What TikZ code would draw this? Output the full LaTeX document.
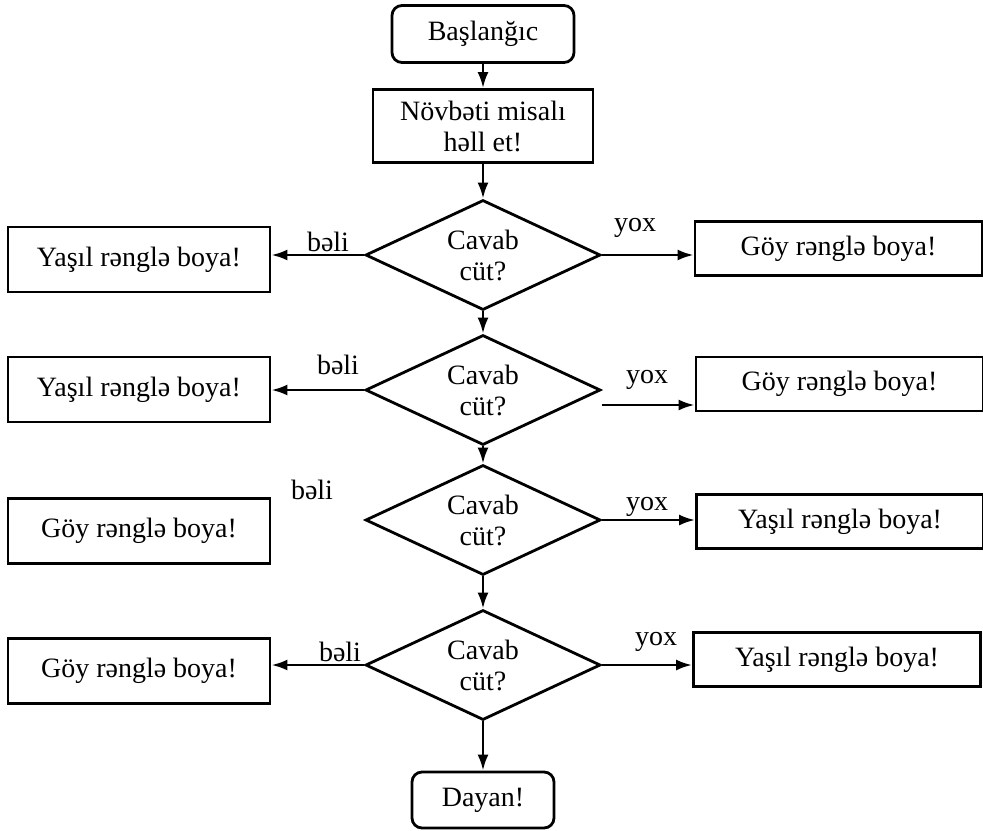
\documentclass[tikz,border=0pt]{standalone}
\usepackage{fontspec}
\setmainfont{Liberation Serif}
\usetikzlibrary{shapes.geometric,arrows.meta}
\begin{document}
\begin{tikzpicture}[x=0.5pt,y=-0.5pt,
  every node/.style={font=\fontsize{14}{15.5}\selectfont},
  box/.style={draw,line width=1.4pt,rectangle,inner sep=0pt,align=center},
  term/.style={box,rounded corners=5pt},
  test/.style={draw,line width=1.4pt,diamond,aspect=2.14,inner sep=0pt,
    minimum width=117.5pt,minimum height=55pt,align=center},
  lbox/.style={box,minimum width=131pt,minimum height=32.5pt},
  rbox/.style={box,minimum width=143.5pt,minimum height=27pt},
  flow/.style={line width=1.3pt,-{Latex[length=8pt,width=5.5pt]}},
  tag/.style={inner sep=0pt}]
\useasboundingbox (0,0) rectangle (983,830);

% main column
\node[term,minimum width=91pt,minimum height=28.5pt] (start) at (483,34) {Başlanğıc};
\node[box,minimum width=110pt,minimum height=36.5pt] (next) at (483,126) {Növbəti misalı\\həll et!};
\node[test] (d1) at (483,255) {Cavab\\cüt?};
\node[test] (d2) at (483,390) {Cavab\\cüt?};
\node[test] (d3) at (483,520) {Cavab\\cüt?};
\node[test] (d4) at (483,665) {Cavab\\cüt?};
\node[term,minimum width=71pt,minimum height=28pt] (stop) at (483,800) {Dayan!};

% left branches
\node[lbox] (l1) at (139,259.5) {Yaşıl rənglə boya!};
\node[lbox] (l2) at (139,389.5) {Yaşıl rənglə boya!};
\node[lbox] (l3) at (139,531) {Göy rənglə boya!};
\node[lbox] (l4) at (139,671) {Göy rənglə boya!};

% right branches
\node[rbox] (r1) at (838.5,248.5) {Göy rənglə boya!};
\node[rbox] (r2) at (839.5,384) {Göy rənglə boya!};
\node[rbox] (r3) at (840,521.5) {Yaşıl rənglə boya!};
\node[rbox] (r4) at (837,659.5) {Yaşıl rənglə boya!};

% branch labels
\node[tag] (b1) at (328,242) {bəli};
\node[tag] (b2) at (338,365) {bəli};
\node[tag] (b3) at (312,490) {bəli};
\node[tag] (b4) at (340,652) {bəli};
\node[tag] (y1) at (635,228) {yox};
\node[tag] (y2) at (647,380) {yox};
\node[tag] (y3) at (647,507) {yox};
\node[tag] (y4) at (656,642) {yox};

% vertical flow
\draw[flow] (start) -- (next);
\draw[flow] (next) -- (d1);
\draw[flow] (d1) -- (d2);
\draw[flow] (d2) -- (d3);
\draw[flow] (d3) -- (d4);
\draw[flow] (d4) -- (stop);

% horizontal flow
\draw[flow] (d1.west) -- (d1.west -| l1.east);
\draw[flow] (d2.west) -- (d2.west -| l2.east);
\draw[flow] (d4.west) -- (d4.west -| l4.east);
\draw[flow] (d1.east) -- (d1.east -| r1.west);
\draw[flow] ([yshift=-7.5pt]d2.east) -- ([yshift=-7.5pt]d2.east -| r2.west);
\draw[flow] (d3.east) -- (d3.east -| r3.west);
\draw[flow] (d4.east) -- (d4.east -| r4.west);
\end{tikzpicture}
\end{document}
